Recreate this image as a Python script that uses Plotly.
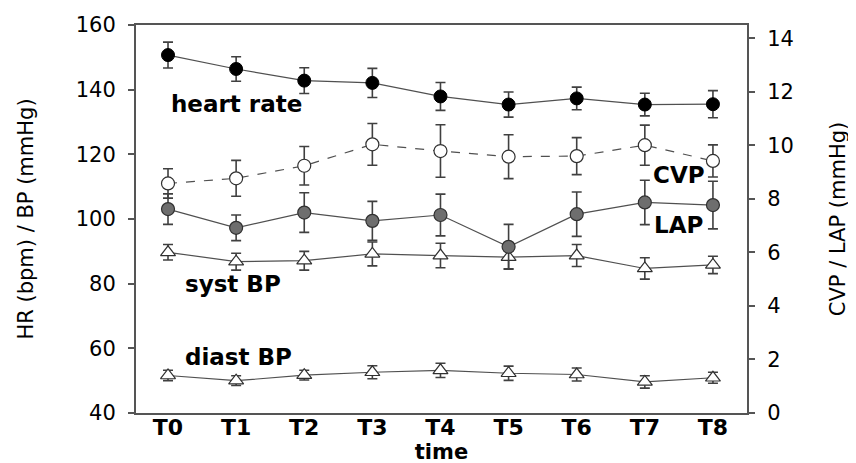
import plotly.graph_objects as go

times = ["T0", "T1", "T2", "T3", "T4", "T5", "T6", "T7", "T8"]

hr = [150.7, 146.4, 142.8, 142.1, 137.9, 135.4, 137.3, 135.4, 135.5]
hr_err = [4.0, 3.8, 4.0, 4.5, 4.3, 3.9, 3.5, 3.5, 4.2]

syst = [89.7, 86.8, 87.1, 89.2, 88.7, 88.2, 88.7, 84.7, 85.8]
syst_err = [2.4, 2.6, 2.9, 3.7, 3.8, 3.6, 3.4, 3.3, 2.7]

diast = [51.6, 50.0, 51.7, 52.6, 53.2, 52.3, 51.9, 49.6, 50.9]
diast_err = [1.6, 1.5, 1.5, 2.0, 2.2, 2.2, 2.0, 1.9, 1.7]

cvp = [8.58, 8.77, 9.24, 10.04, 9.79, 9.58, 9.60, 10.01, 9.42]
cvp_err = [0.55, 0.67, 0.72, 0.78, 0.98, 0.82, 0.69, 0.75, 0.60]

lap = [7.62, 6.92, 7.49, 7.18, 7.40, 6.21, 7.43, 7.87, 7.77]
lap_err = [0.57, 0.48, 0.74, 0.73, 0.78, 0.84, 0.83, 0.83, 0.89]

left_ticks = [40, 60, 80, 100, 120, 140, 160]
right_ticks = [0, 2, 4, 6, 8, 10, 12, 14]

LINE = "#505050"
EDGE = "#303030"
FONT = "DejaVu Sans"


def err(vals):
    return dict(type="data", array=vals, visible=True, color="#404040",
                thickness=1.6, width=5)


fig = go.Figure()

# left axis series
for vals, errs in ((syst, syst_err), (diast, diast_err)):
    fig.add_trace(go.Scatter(
        x=times, y=vals, error_y=err(errs), mode="lines+markers",
        line=dict(color=LINE, width=1.2),
        marker=dict(symbol="triangle-up", size=13, color="white",
                    line=dict(color=EDGE, width=1.2)),
        showlegend=False))
fig.add_trace(go.Scatter(
    x=times, y=hr, error_y=err(hr_err), mode="lines+markers",
    line=dict(color=LINE, width=1.2),
    marker=dict(symbol="circle", size=13, color="black",
                line=dict(color="black", width=1)),
    showlegend=False))

# right axis series
fig.add_trace(go.Scatter(
    x=times, y=cvp, error_y=err(cvp_err), mode="lines+markers", yaxis="y2",
    line=dict(color=LINE, width=1.2, dash="dash"),
    marker=dict(symbol="circle", size=13, color="white",
                line=dict(color=EDGE, width=1.2)),
    showlegend=False))
fig.add_trace(go.Scatter(
    x=times, y=lap, error_y=err(lap_err), mode="lines+markers", yaxis="y2",
    line=dict(color=LINE, width=1.2),
    marker=dict(symbol="circle", size=13, color="#6e6e6e",
                line=dict(color=EDGE, width=1.2)),
    showlegend=False))

label_font = dict(family=FONT, size=23, color="black", weight="bold")
labels = [
    ("heart rate", 1.0, 135.5),
    ("CVP", 7.5, 113.5),
    ("LAP", 7.49, 98.0),
    ("syst BP", 0.95, 80.0),
    ("diast BP", 1.03, 57.4),
]
for txt, xx, yy in labels:
    fig.add_annotation(x=xx, y=yy, xref="x", yref="y", text=txt,
                       showarrow=False, font=label_font)

axis_line = dict(showline=True, linecolor="#555555", linewidth=2)

# the page body adds an 8px offset, so margins are shifted to compensate
fig.update_layout(
    width=856, height=463,
    margin=dict(l=128, r=117, t=17, b=58),
    paper_bgcolor="white", plot_bgcolor="white",
    font=dict(family=FONT, color="black"),
    xaxis=dict(
        type="category", range=[-0.47, 8.5], automargin=False,
        tickvals=times, ticktext=times,
        showgrid=False, zeroline=False, mirror=True, ticks="",
        tickfont=dict(family=FONT, size=22, weight="bold"),
        ticklabelstandoff=-6,
        title=dict(text="time", font=dict(family=FONT, size=21, weight="bold"),
                   standoff=0),
        **axis_line),
    yaxis=dict(
        range=[40, 160], tickvals=left_ticks, ticks="outside", ticklen=6,
        tickwidth=2, tickcolor="#555555", automargin=False,
        showgrid=False, zeroline=False,
        tickfont=dict(family=FONT, size=21),
        ticklabelstandoff=8,
        title=dict(text="HR (bpm) / BP (mmHg)", font=dict(family=FONT, size=21),
                   standoff=36),
        **axis_line),
    yaxis2=dict(
        range=[0, 14.5], tickvals=right_ticks, ticks="outside", ticklen=6,
        tickwidth=2, tickcolor="#555555", automargin=False,
        overlaying="y", side="right",
        showgrid=False, zeroline=False,
        tickfont=dict(family=FONT, size=21),
        ticklabelstandoff=8,
        title=dict(text="CVP / LAP (mmHg)", font=dict(family=FONT, size=21),
                   standoff=37),
        **axis_line),
)

fig.write_html("out.html")
